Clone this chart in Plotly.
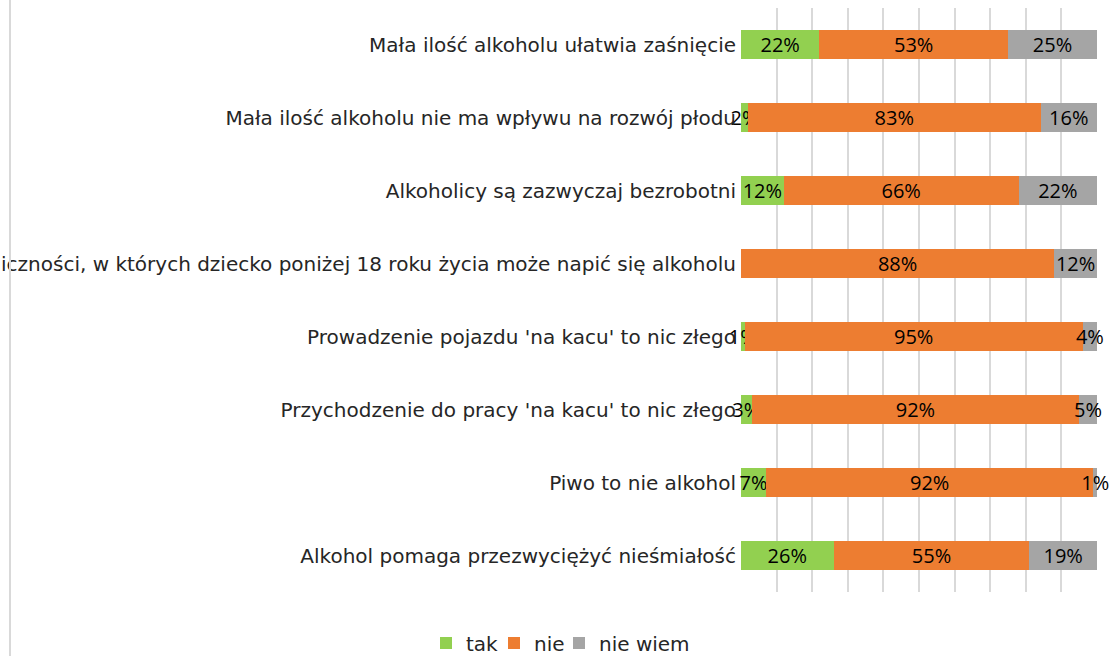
import plotly.graph_objects as go

categories = [
    "Mała ilość alkoholu ułatwia zaśnięcie",
    "Mała ilość alkoholu nie ma wpływu na rozwój płodu",
    "Alkoholicy są zazwyczaj bezrobotni",
    "Istnieją okoliczności, w których dziecko poniżej 18 roku życia może napić się alkoholu",
    "Prowadzenie pojazdu 'na kacu' to nic złego",
    "Przychodzenie do pracy 'na kacu' to nic złego",
    "Piwo to nie alkohol",
    "Alkohol pomaga przezwyciężyć nieśmiałość",
]
tak = [22, 2, 12, 0, 1, 3, 7, 26]
nie = [53, 83, 66, 88, 95, 92, 92, 55]
nie_wiem = [25, 16, 22, 12, 4, 5, 1, 19]

series = [("tak", tak, "#92D050"), ("nie", nie, "#ED7D31"), ("nie wiem", nie_wiem, "#A5A5A5")]
legend_ids = ["legend", "legend2", "legend3"]
legend_left_px = [440, 508, 573]  # left edge of each legend square

FONT = "'DejaVu Sans', sans-serif"
LBL_FONT = "'Open Sans', sans-serif"
FS = 20
fig = go.Figure()
for (name, vals, color), lid in zip(series, legend_ids):
    fig.add_trace(go.Bar(
        y=categories, x=vals, name=name, orientation="h", legend=lid,
        showlegend=True,
        marker=dict(color=color, line=dict(width=0)),
        text=[f"{v}%" if v > 0 else "" for v in vals],
        textposition="inside", insidetextanchor="middle",
        textangle=0, constraintext="none", cliponaxis=False,
        textfont=dict(color="black", size=20, family=LBL_FONT),
    ))

L, R, T, B = 741, 12, 8, 64
W, H = 1109, 656
pw, ph = W - L - R, H - T - B

SQ_OFF = 14
legends = {}
for lid, px in zip(legend_ids, legend_left_px):
    legends[lid] = dict(orientation="h", x=(px - SQ_OFF - L) / pw, xanchor="left",
                        y=(T + ph - 643) / ph, yanchor="middle",
                        font=dict(size=FS, family=FONT, color="#262626"),
                        itemwidth=30, bgcolor="rgba(0,0,0,0)")

fig.update_layout(
    width=W, height=H, showlegend=True,
    barmode="stack", barnorm="percent", bargap=0.59,
    margin=dict(l=L, r=R, t=T, b=B, autoexpand=False),
    paper_bgcolor="white", plot_bgcolor="white",
    font=dict(family=FONT, size=FS, color="#262626"),
    xaxis=dict(range=[0, 100], dtick=10, showgrid=True, gridcolor="#D9D9D9",
               gridwidth=2, showticklabels=False, zeroline=False, showline=False,
               fixedrange=True),
    yaxis=dict(autorange="reversed", showgrid=False, ticks="", ticklabelstandoff=4,
               automargin=False, showline=False, fixedrange=True),
    shapes=[dict(type="line", xref="paper", yref="paper",
                 x0=(10 - L) / pw, x1=(10 - L) / pw,
                 y0=(T + ph) / ph, y1=(T + ph - H) / ph,
                 line=dict(color="#D9D9D9", width=2))],
    **legends,
)

fig.write_html("out.html", config={"displayModeBar": False},
               post_script="document.body.style.margin='0';")
